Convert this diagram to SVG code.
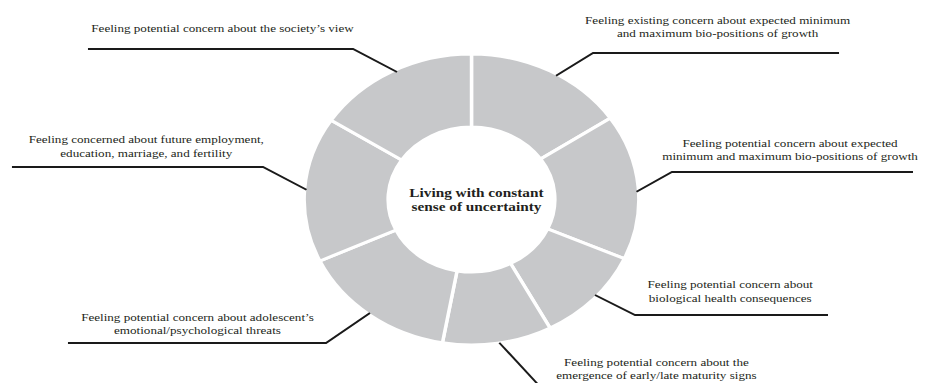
<svg xmlns="http://www.w3.org/2000/svg" width="927" height="383" viewBox="0 0 927 383">
<style>
.seg{fill:#c7c8ca;stroke:#ffffff;stroke-width:3;stroke-linejoin:miter}
.lbl{font-family:"Liberation Serif","Times New Roman",serif;font-size:11.4px;fill:#231f20;text-anchor:middle}
.title{font-family:"Liberation Serif","Times New Roman",serif;font-size:13.3px;font-weight:bold;fill:#231f20;text-anchor:middle}
.lead{fill:none;stroke:#1a1a1a;stroke-width:1.8;stroke-linejoin:miter}
</style>
<rect x="0" y="0" width="927" height="383" fill="#ffffff"/>
<g transform="scale(1.15 1)">
  <g id="seg-existing-bio-positions">
    <path class="seg" d="M410,54 A145.5,145.5 0 0 1 530.62,118.14 L470.10,158.96 A72.5,72.5 0 0 0 410,127 Z"/>
    <text class="lbl" x="624" y="24">Feeling existing concern about expected minimum</text>
    <text class="lbl" x="624" y="37.3">and maximum bio-positions of growth</text>
  </g>
  <g id="seg-potential-bio-positions">
    <path class="seg" d="M530.62,118.14 A145.5,145.5 0 0 1 542.91,258.67 L476.23,228.99 A72.5,72.5 0 0 0 470.10,158.96 Z"/>
    <text class="lbl" x="687" y="147.2">Feeling potential concern about expected</text>
    <text class="lbl" x="687" y="160.5">minimum and maximum bio-positions of growth</text>
  </g>
  <g id="seg-biological-health">
    <path class="seg" d="M542.91,258.67 A145.5,145.5 0 0 1 478.31,327.96 L444.04,263.51 A72.5,72.5 0 0 0 476.23,228.99 Z"/>
    <text class="lbl" x="635" y="288.5">Feeling potential concern about</text>
    <text class="lbl" x="635" y="301.7">biological health consequences</text>
  </g>
  <g id="seg-maturity-signs">
    <path class="seg" d="M478.31,327.96 A145.5,145.5 0 0 1 384.74,342.79 L397.41,270.90 A72.5,72.5 0 0 0 444.04,263.51 Z"/>
    <text class="lbl" x="570.8" y="365.7">Feeling potential concern about the</text>
    <text class="lbl" x="570.8" y="378.9">emergence of early/late maturity signs</text>
  </g>
  <g id="seg-emotional-threats">
    <path class="seg" d="M384.74,342.79 A145.5,145.5 0 0 1 278.13,260.99 L344.29,230.14 A72.5,72.5 0 0 0 397.41,270.90 Z"/>
    <text class="lbl" x="171.7" y="321">Feeling potential concern about adolescent’s</text>
    <text class="lbl" x="171.7" y="334.3">emotional/psychological  threats</text>
  </g>
  <g id="seg-future-employment">
    <path class="seg" d="M278.13,260.99 A145.5,145.5 0 0 1 287.97,120.26 L349.19,160.02 A72.5,72.5 0 0 0 344.29,230.14 Z"/>
    <text class="lbl" x="127.2" y="143.5">Feeling concerned about future employment,</text>
    <text class="lbl" x="127.2" y="156.8">education, marriage, and fertility</text>
  </g>
  <g id="seg-society-view">
    <path class="seg" d="M287.97,120.26 A145.5,145.5 0 0 1 410,54 L410,127 A72.5,72.5 0 0 0 349.19,160.02 Z"/>
    <text class="lbl" x="193.5" y="32">Feeling potential concern about the society’s view</text>
  </g>
  <g id="center">
    <text class="title" x="414.3" y="197">Living with constant</text>
    <text class="title" x="414.3" y="211">sense of uncertainty</text>
  </g>
  <g id="connectors">
    <polyline class="lead" points="76.5,49 307,49 345.2,72"/>
    <polyline class="lead" points="10.4,167 228.7,167 266.5,189.7"/>
    <polyline class="lead" points="729.6,53 515.7,53 483.5,75.7"/>
    <polyline class="lead" points="793.9,172 584.3,172 553.5,191.7"/>
    <polyline class="lead" points="517.4,295 552.2,315 720,315"/>
    <polyline class="lead" points="434.2,342.7 472.3,390"/>
    <polyline class="lead" points="321.7,313 283.5,343 59.1,343"/>
  </g>
</g>
</svg>
